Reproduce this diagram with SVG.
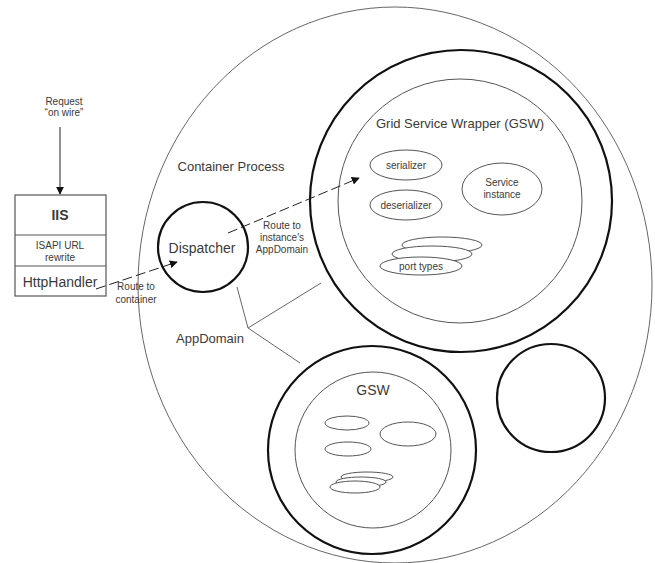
<svg xmlns="http://www.w3.org/2000/svg" width="655" height="563" viewBox="0 0 655 563">
  <defs>
    <style>
      text { font-family: "Liberation Sans", Arial, sans-serif; fill: #3a3a3a; text-anchor: middle; }
      .big { font-size: 14px; }
      .mid { font-size: 13px; }
      .small { font-size: 10px; }
      .thin { fill: none; stroke: #555; stroke-width: 1; }
      .outer { fill: none; stroke: #666; stroke-width: 1; }
      .thick { fill: none; stroke: #111; stroke-width: 2.2; }
      .box { fill: #fff; stroke: #555; stroke-width: 1.2; }
      .flow { fill: none; stroke: #222; stroke-width: 1; }
      .dash { stroke-dasharray: 10 4; }
      .ptr { fill: none; stroke: #666; stroke-width: 1; }
    </style>
    <marker id="arrow" viewBox="0 0 10 10" refX="9" refY="5" markerWidth="8" markerHeight="8" orient="auto" markerUnits="userSpaceOnUse">
      <path d="M0,0 L10,5 L0,10 z" fill="#111"/>
    </marker>
  </defs>
  <rect width="655" height="563" fill="#fff"/>

  <!-- container process boundary -->
  <g id="container">
    <ellipse class="outer" cx="395" cy="285" rx="257" ry="278"/>
    <text class="mid" x="231" y="171">Container Process</text>
    <text class="mid" x="210" y="343">AppDomain</text>
  </g>

  <!-- IIS stack -->
  <g id="iis">
    <rect class="box" x="15" y="195" width="91" height="101"/>
    <line class="box" x1="15" y1="235" x2="106" y2="235"/>
    <line class="box" x1="15" y1="266" x2="106" y2="266"/>
    <text class="big" x="60" y="220" font-weight="bold">IIS</text>
    <text class="small" x="60" y="249">ISAPI URL</text>
    <text class="small" x="60" y="261">rewrite</text>
    <text class="big" x="60" y="287">HttpHandler</text>
  </g>

  <g id="request">
    <text class="small" x="64" y="105">Request</text>
    <text class="small" x="64" y="116">“on wire”</text>
  </g>

  <!-- dispatcher -->
  <g id="dispatcher">
    <circle class="thick" cx="203" cy="247" r="45"/>
    <text class="big" x="202" y="253">Dispatcher</text>
  </g>

  <!-- AppDomain hosting the grid service wrapper -->
  <g id="appdomain-1">
    <circle class="thick" cx="461" cy="201" r="151"/>
  </g>
  <g id="gsw-1">
    <circle class="thin" cx="460" cy="201" r="122"/>
    <text class="mid" x="460" y="128">Grid Service Wrapper (GSW)</text>
  </g>
  <g id="serializer">
    <ellipse class="thin" cx="406" cy="165" rx="36" ry="15"/>
    <text class="small" x="406" y="169">serializer</text>
  </g>
  <g id="deserializer">
    <ellipse class="thin" cx="406" cy="205" rx="36" ry="15"/>
    <text class="small" x="406" y="209">deserializer</text>
  </g>
  <g id="service-instance">
    <ellipse class="thin" cx="502" cy="189" rx="40" ry="26"/>
    <text class="small" x="502" y="186">Service</text>
    <text class="small" x="502" y="198">instance</text>
  </g>
  <g id="port-types">
    <ellipse class="thin" cx="442" cy="245" rx="40" ry="8" style="fill:#fff"/>
    <ellipse class="thin" cx="432" cy="254" rx="40" ry="8" style="fill:#fff"/>
    <ellipse class="thin" cx="421" cy="266" rx="41" ry="9" style="fill:#fff"/>
    <text class="small" x="421" y="270">port types</text>
  </g>

  <!-- second AppDomain -->
  <g id="appdomain-2">
    <circle class="thick" cx="372" cy="450" r="104"/>
  </g>
  <g id="gsw-2">
    <circle class="thin" cx="373" cy="450" r="78"/>
    <text class="big" x="373" y="395">GSW</text>
    <ellipse class="thin" cx="347" cy="423" rx="22" ry="7"/>
    <ellipse class="thin" cx="348" cy="449" rx="23" ry="7"/>
    <ellipse class="thin" cx="408" cy="434" rx="28" ry="12"/>
    <ellipse class="thin" cx="367" cy="477" rx="26" ry="5" style="fill:#fff"/>
    <ellipse class="thin" cx="361" cy="482" rx="25" ry="5" style="fill:#fff"/>
    <ellipse class="thin" cx="355" cy="487" rx="25" ry="6" style="fill:#fff"/>
  </g>

  <!-- third, empty AppDomain -->
  <g id="appdomain-3">
    <circle class="thick" cx="551" cy="398" r="54"/>
  </g>

  <!-- connectors -->
  <g id="connectors">
    <line class="flow" x1="60" y1="127" x2="60" y2="194" marker-end="url(#arrow)"/>
    <line class="flow dash" x1="96" y1="289" x2="177" y2="262" marker-end="url(#arrow)"/>
    <line class="flow dash" x1="228" y1="233" x2="359" y2="178" marker-end="url(#arrow)"/>
    <polyline class="ptr" points="237,287 248,328 321,283"/>
    <line class="ptr" x1="248" y1="328" x2="300" y2="363"/>
    <text class="small" x="136" y="290">Route to</text>
    <text class="small" x="136" y="303">container</text>
    <text class="small" x="282" y="229">Route to</text>
    <text class="small" x="282" y="241">instance's</text>
    <text class="small" x="282" y="253">AppDomain</text>
  </g>
</svg>
